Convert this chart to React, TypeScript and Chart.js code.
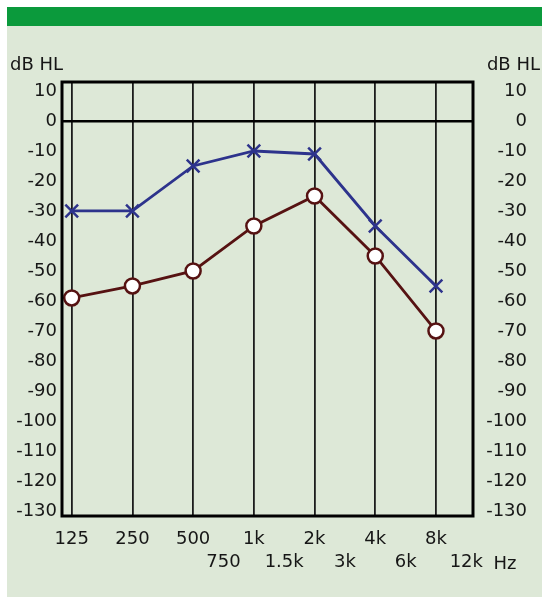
import React, { useEffect, useRef } from 'react';
import { Chart, registerables } from 'chart.js';

Chart.register(...registerables);

// Frequencies, placed by octave index from 125 Hz
const octaves = [0, 1, 2, 3, 4, 5, 6];
const upperLabels = ['125', '250', '500', '1k', '2k', '4k', '8k'];
const lowerPositions = [2.5, 3.5, 4.5, 5.5, 6.5];
const lowerLabels = ['750', '1.5k', '3k', '6k', '12k'];
const emptyHalfPositions = [0.5, 1.5];

// Hearing levels (dB HL)
const leftEar = [-30, -30, -15, -10, -11, -35, -55];
const rightEar = [-59, -55, -50, -35, -25, -45, -70];

const yTicks = [10, 0, -10, -20, -30, -40, -50, -60, -70, -80, -90, -100, -110, -120, -130];

const FONT = 'DejaVu Sans';
const TEXT = '#161616';

const decor = {
  id: 'decor',
  afterDraw(chart: any) {
    const { ctx, chartArea: a } = chart;
    ctx.save();
    ctx.strokeStyle = '#000';
    ctx.lineWidth = 3;
    ctx.strokeRect(a.left, a.top, a.right - a.left, a.bottom - a.top);
    ctx.fillStyle = TEXT;
    ctx.font = `18px "${FONT}"`;
    ctx.textBaseline = 'middle';
    ctx.textAlign = 'left';
    ctx.fillText('dB HL', 10, 65);
    ctx.textAlign = 'right';
    ctx.fillText('dB HL', 540, 65);
    ctx.textAlign = 'center';
    ctx.fillText('Hz', 505, 564);
    ctx.restore();
  },
};

export default function App() {
  const ref = useRef<HTMLCanvasElement>(null);

  useEffect(() => {
    if (!ref.current) return;
    const allX = [...octaves, ...emptyHalfPositions, ...lowerPositions].sort((p, q) => p - q);
    const label = (v: number) => {
      const i = octaves.indexOf(v);
      if (i >= 0) return upperLabels[i];
      const j = lowerPositions.indexOf(v);
      if (j >= 0) return ['', lowerLabels[j]];
      return '';
    };
    const chart = new Chart(ref.current, {
      type: 'line',
      data: {
        datasets: [
          {
            data: octaves.map((x, i) => ({ x, y: leftEar[i] })),
            borderColor: '#2d338c',
            borderWidth: 2.8,
            pointStyle: 'crossRot',
            pointRadius: 9,
            pointBorderWidth: 2.5,
            pointBorderColor: '#2d338c',
            pointBackgroundColor: '#2d338c',
          },
          {
            data: octaves.map((x, i) => ({ x, y: rightEar[i] })),
            borderColor: '#561212',
            borderWidth: 2.8,
            pointStyle: 'circle',
            pointRadius: 7.5,
            pointBorderWidth: 2.5,
            pointBorderColor: '#561212',
            pointBackgroundColor: '#ffffff',
          },
        ],
      },
      options: {
        animation: false,
        responsive: false,
        layout: { padding: { top: 82, right: 15, left: 0, bottom: 0 } },
        plugins: { legend: { display: false }, tooltip: { enabled: false } },
        scales: {
          x: {
            type: 'linear',
            min: -0.16,
            max: 6.61,
            afterBuildTicks: (s: any) => {
              s.ticks = allX.map((v) => ({ value: v }));
            },
            afterFit: (s: any) => {
              s.height = 81;
            },
            border: { display: false },
            grid: {
              drawTicks: false,
              color: (c: any) => (c.tick && Number.isInteger(c.tick.value) ? '#1c1c1c' : 'rgba(0,0,0,0)'),
              lineWidth: 1.8,
            },
            ticks: {
              autoSkip: false,
              maxRotation: 0,
              padding: 12,
              color: TEXT,
              font: { family: FONT, size: 18, lineHeight: 1.28 },
              callback: (v: any) => label(Number(v)) as any,
            },
          },
          y: {
            type: 'linear',
            position: 'left',
            min: -131.7,
            max: 13,
            afterBuildTicks: (s: any) => {
              s.ticks = yTicks.map((v) => ({ value: v }));
            },
            afterFit: (s: any) => {
              s.width = 62;
            },
            border: { display: false },
            grid: {
              drawTicks: false,
              color: (c: any) => (c.tick && c.tick.value === 0 ? '#000' : 'rgba(0,0,0,0)'),
              lineWidth: 2.5,
            },
            ticks: {
              padding: 5,
              color: TEXT,
              font: { family: FONT, size: 18 },
            },
          },
          y2: {
            type: 'linear',
            position: 'right',
            min: -131.7,
            max: 13,
            afterBuildTicks: (s: any) => {
              s.ticks = yTicks.map((v) => ({ value: v }));
            },
            afterFit: (s: any) => {
              s.width = 54;
            },
            border: { display: false },
            grid: { display: false, drawTicks: false },
            ticks: {
              crossAlign: 'far',
              color: TEXT,
              font: { family: FONT, size: 18 },
            },
          },
        },
      },
      plugins: [decor],
    } as any);
    return () => chart.destroy();
  }, []);

  return (
    <div style={{ position: 'fixed', left: 0, top: 0, width: 542, height: 597, background: '#ffffff' }}>
      <div style={{ position: 'absolute', left: 7, top: 7, width: 535, height: 19, background: '#0b9a3c' }} />
      <div style={{ position: 'absolute', left: 7, top: 26, width: 535, height: 571, background: '#dde8d7' }} />
      <canvas ref={ref} width={542} height={597} style={{ position: 'absolute', left: 0, top: 0, width: 542, height: 597 }} />
    </div>
  );
}
